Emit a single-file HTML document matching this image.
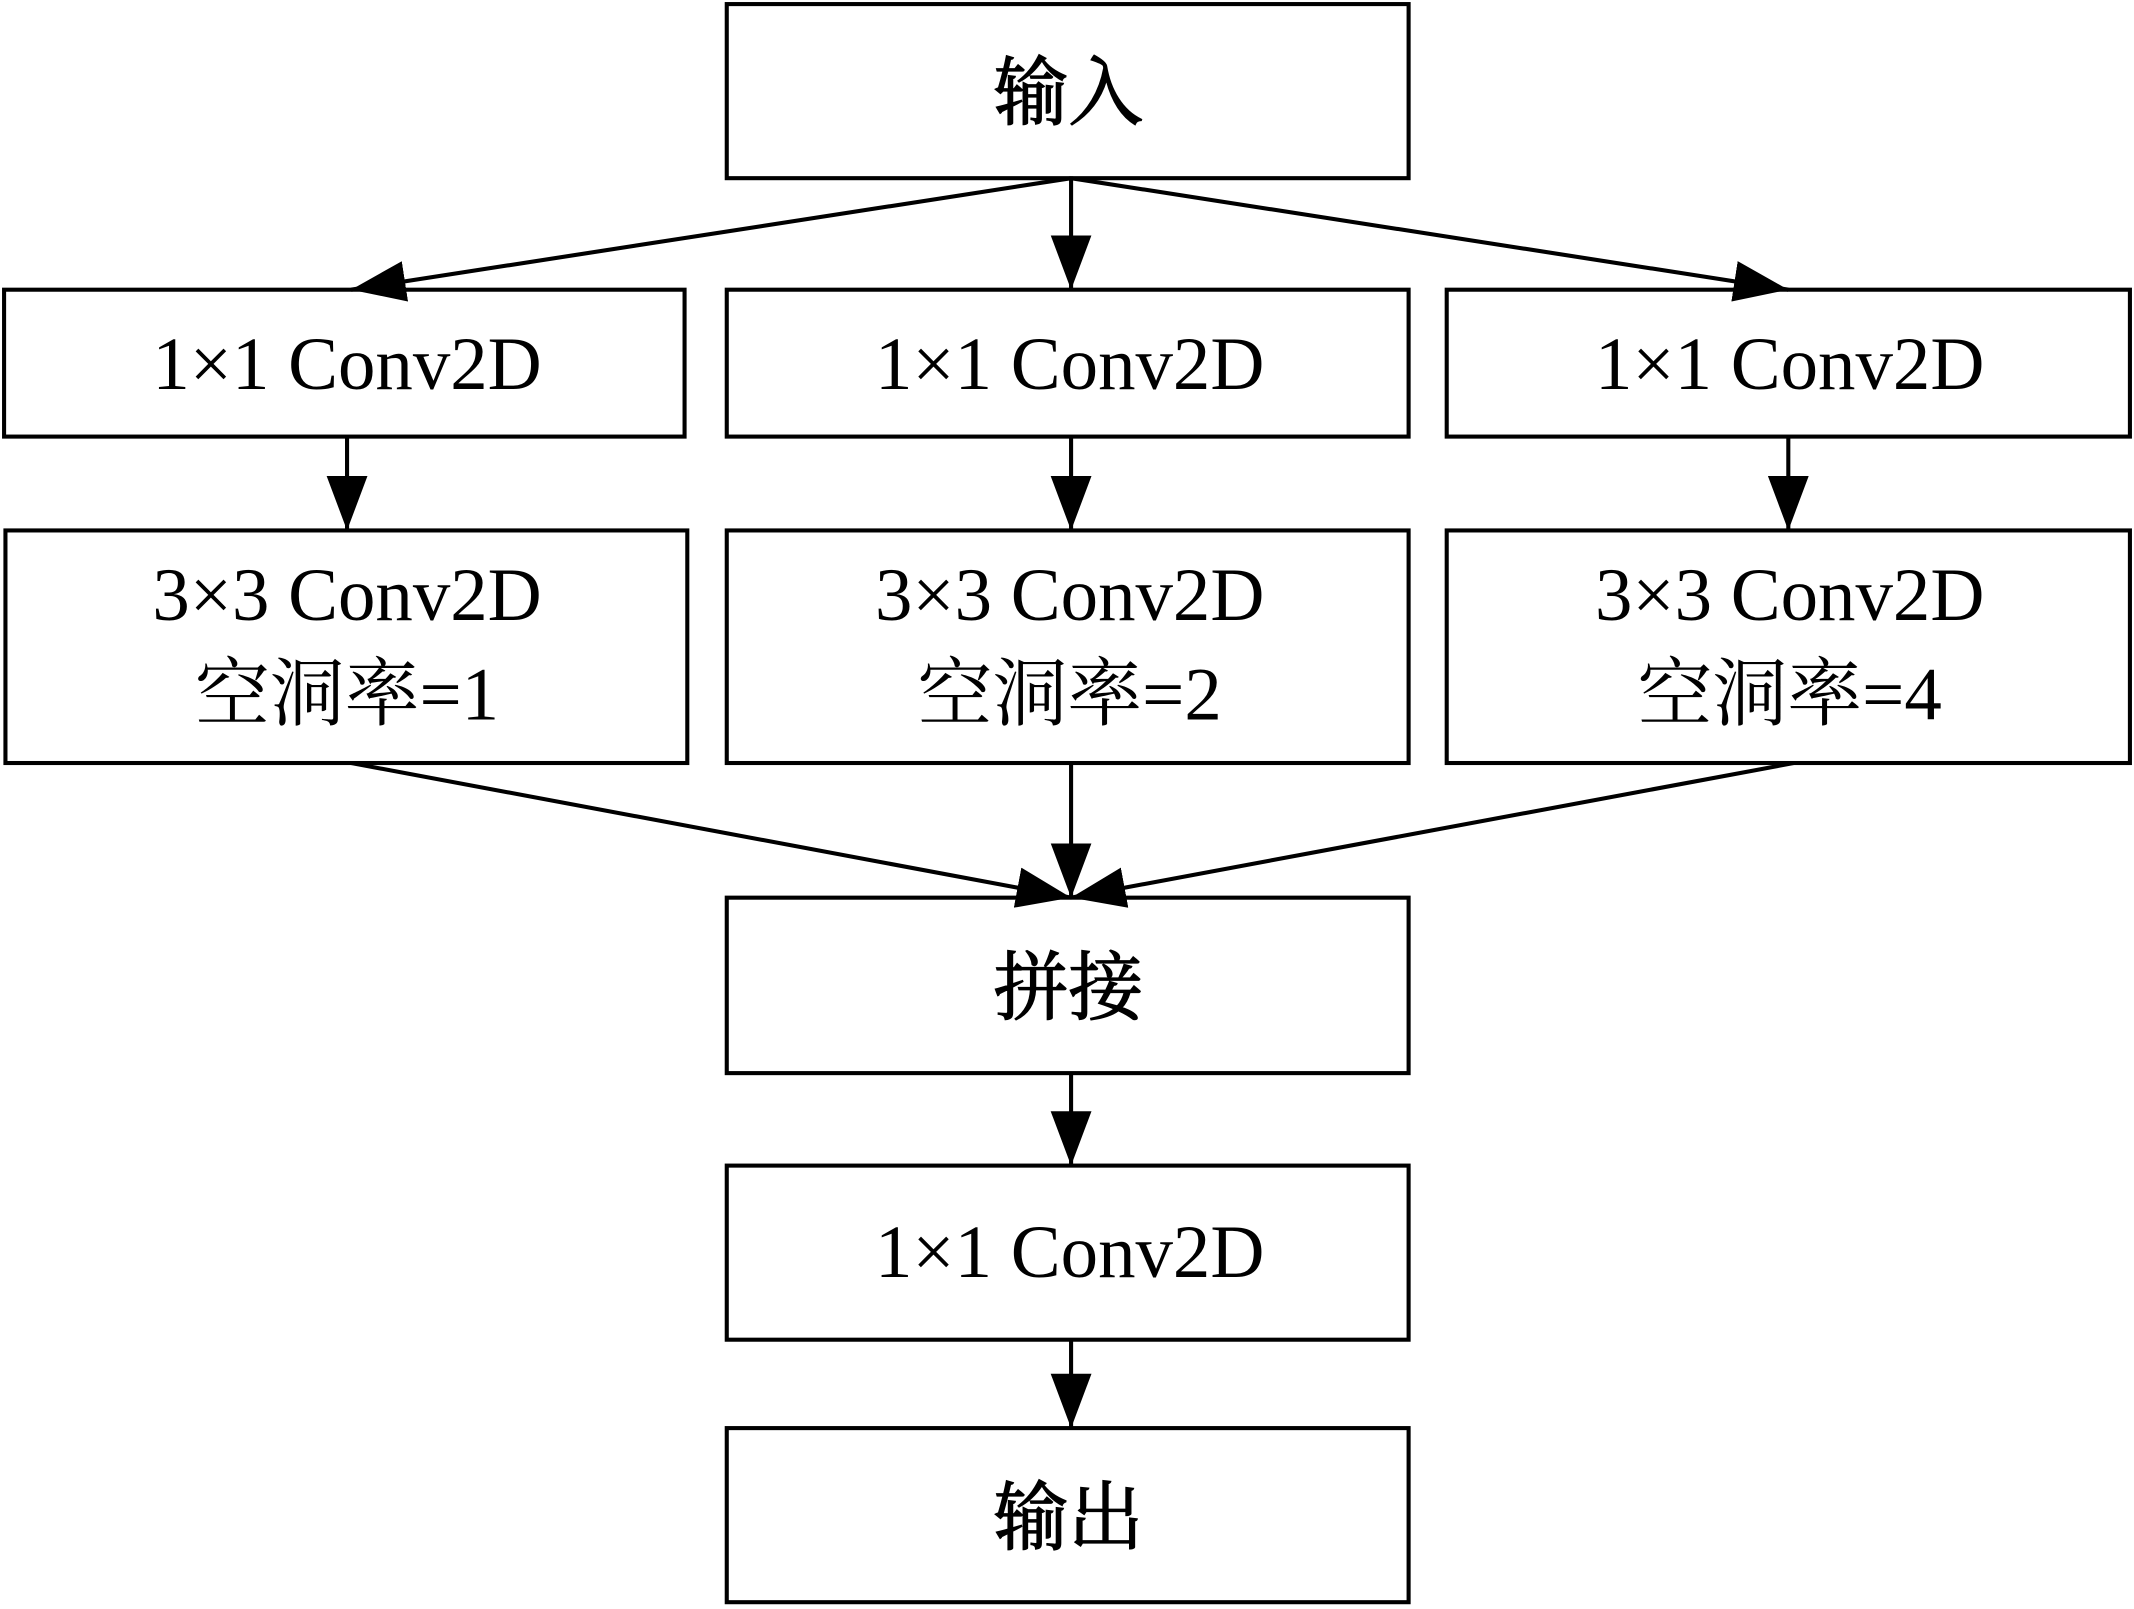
<!DOCTYPE html>
<html><head><meta charset="utf-8"><style>
html,body{margin:0;padding:0;background:#fff;}
svg{display:block;}
text{font-family:"Liberation Serif","Noto Serif CJK SC",serif;font-size:55px;fill:#000;text-anchor:middle;}
.c{stroke:#000;stroke-width:1;}
</style></head><body>
<svg width="2134" height="1609" viewBox="0 0 1568 1183" preserveAspectRatio="none" xmlns="http://www.w3.org/2000/svg">
<defs>
<marker id="a" viewBox="0 0 40 30" refX="40" refY="15" markerWidth="40" markerHeight="30" markerUnits="userSpaceOnUse" orient="auto">
<path d="M0,0 L40,15 L0,30 Z" fill="#000"/>
</marker>
</defs>
<g fill="none" stroke="#000" stroke-width="3">
<rect x="534" y="3" width="501" height="128"/>
<rect x="3" y="213" width="500" height="108"/>
<rect x="534" y="213" width="501" height="108"/>
<rect x="1063" y="213" width="502" height="108"/>
<rect x="4" y="390" width="501" height="171"/>
<rect x="534" y="390" width="501" height="171"/>
<rect x="1063" y="390" width="502" height="171"/>
<rect x="534" y="660" width="501" height="129"/>
<rect x="534" y="857" width="501" height="128"/>
<rect x="534" y="1050" width="501" height="128"/>
</g>
<g stroke="#000" stroke-width="3" marker-end="url(#a)">
<line x1="787" y1="131" x2="258" y2="213"/>
<line x1="787" y1="131" x2="787" y2="213"/>
<line x1="787" y1="131" x2="1314" y2="213"/>
<line x1="255" y1="321" x2="255" y2="390"/>
<line x1="787" y1="321" x2="787" y2="390"/>
<line x1="1314" y1="321" x2="1314" y2="390"/>
<line x1="258" y1="561" x2="787" y2="660"/>
<line x1="787" y1="561" x2="787" y2="660"/>
<line x1="1318" y1="561" x2="787" y2="660"/>
<line x1="787" y1="789" x2="787" y2="857"/>
<line x1="787" y1="985" x2="787" y2="1050"/>
</g>
<text class="c" x="785" y="87">输入</text>
<text x="255" y="286">1×1 Conv2D</text>
<text x="786" y="286">1×1 Conv2D</text>
<text x="1315" y="286">1×1 Conv2D</text>
<text x="255" y="456">3×3 Conv2D</text>
<text x="786" y="456">3×3 Conv2D</text>
<text x="1315" y="456">3×3 Conv2D</text>
<text x="255" y="529">空洞率=1</text>
<text x="786" y="529">空洞率=2</text>
<text x="1315" y="529">空洞率=4</text>
<text class="c" x="785" y="745">拼接</text>
<text x="786" y="939">1×1 Conv2D</text>
<text class="c" x="785" y="1135">输出</text>
</svg>
</body></html>
